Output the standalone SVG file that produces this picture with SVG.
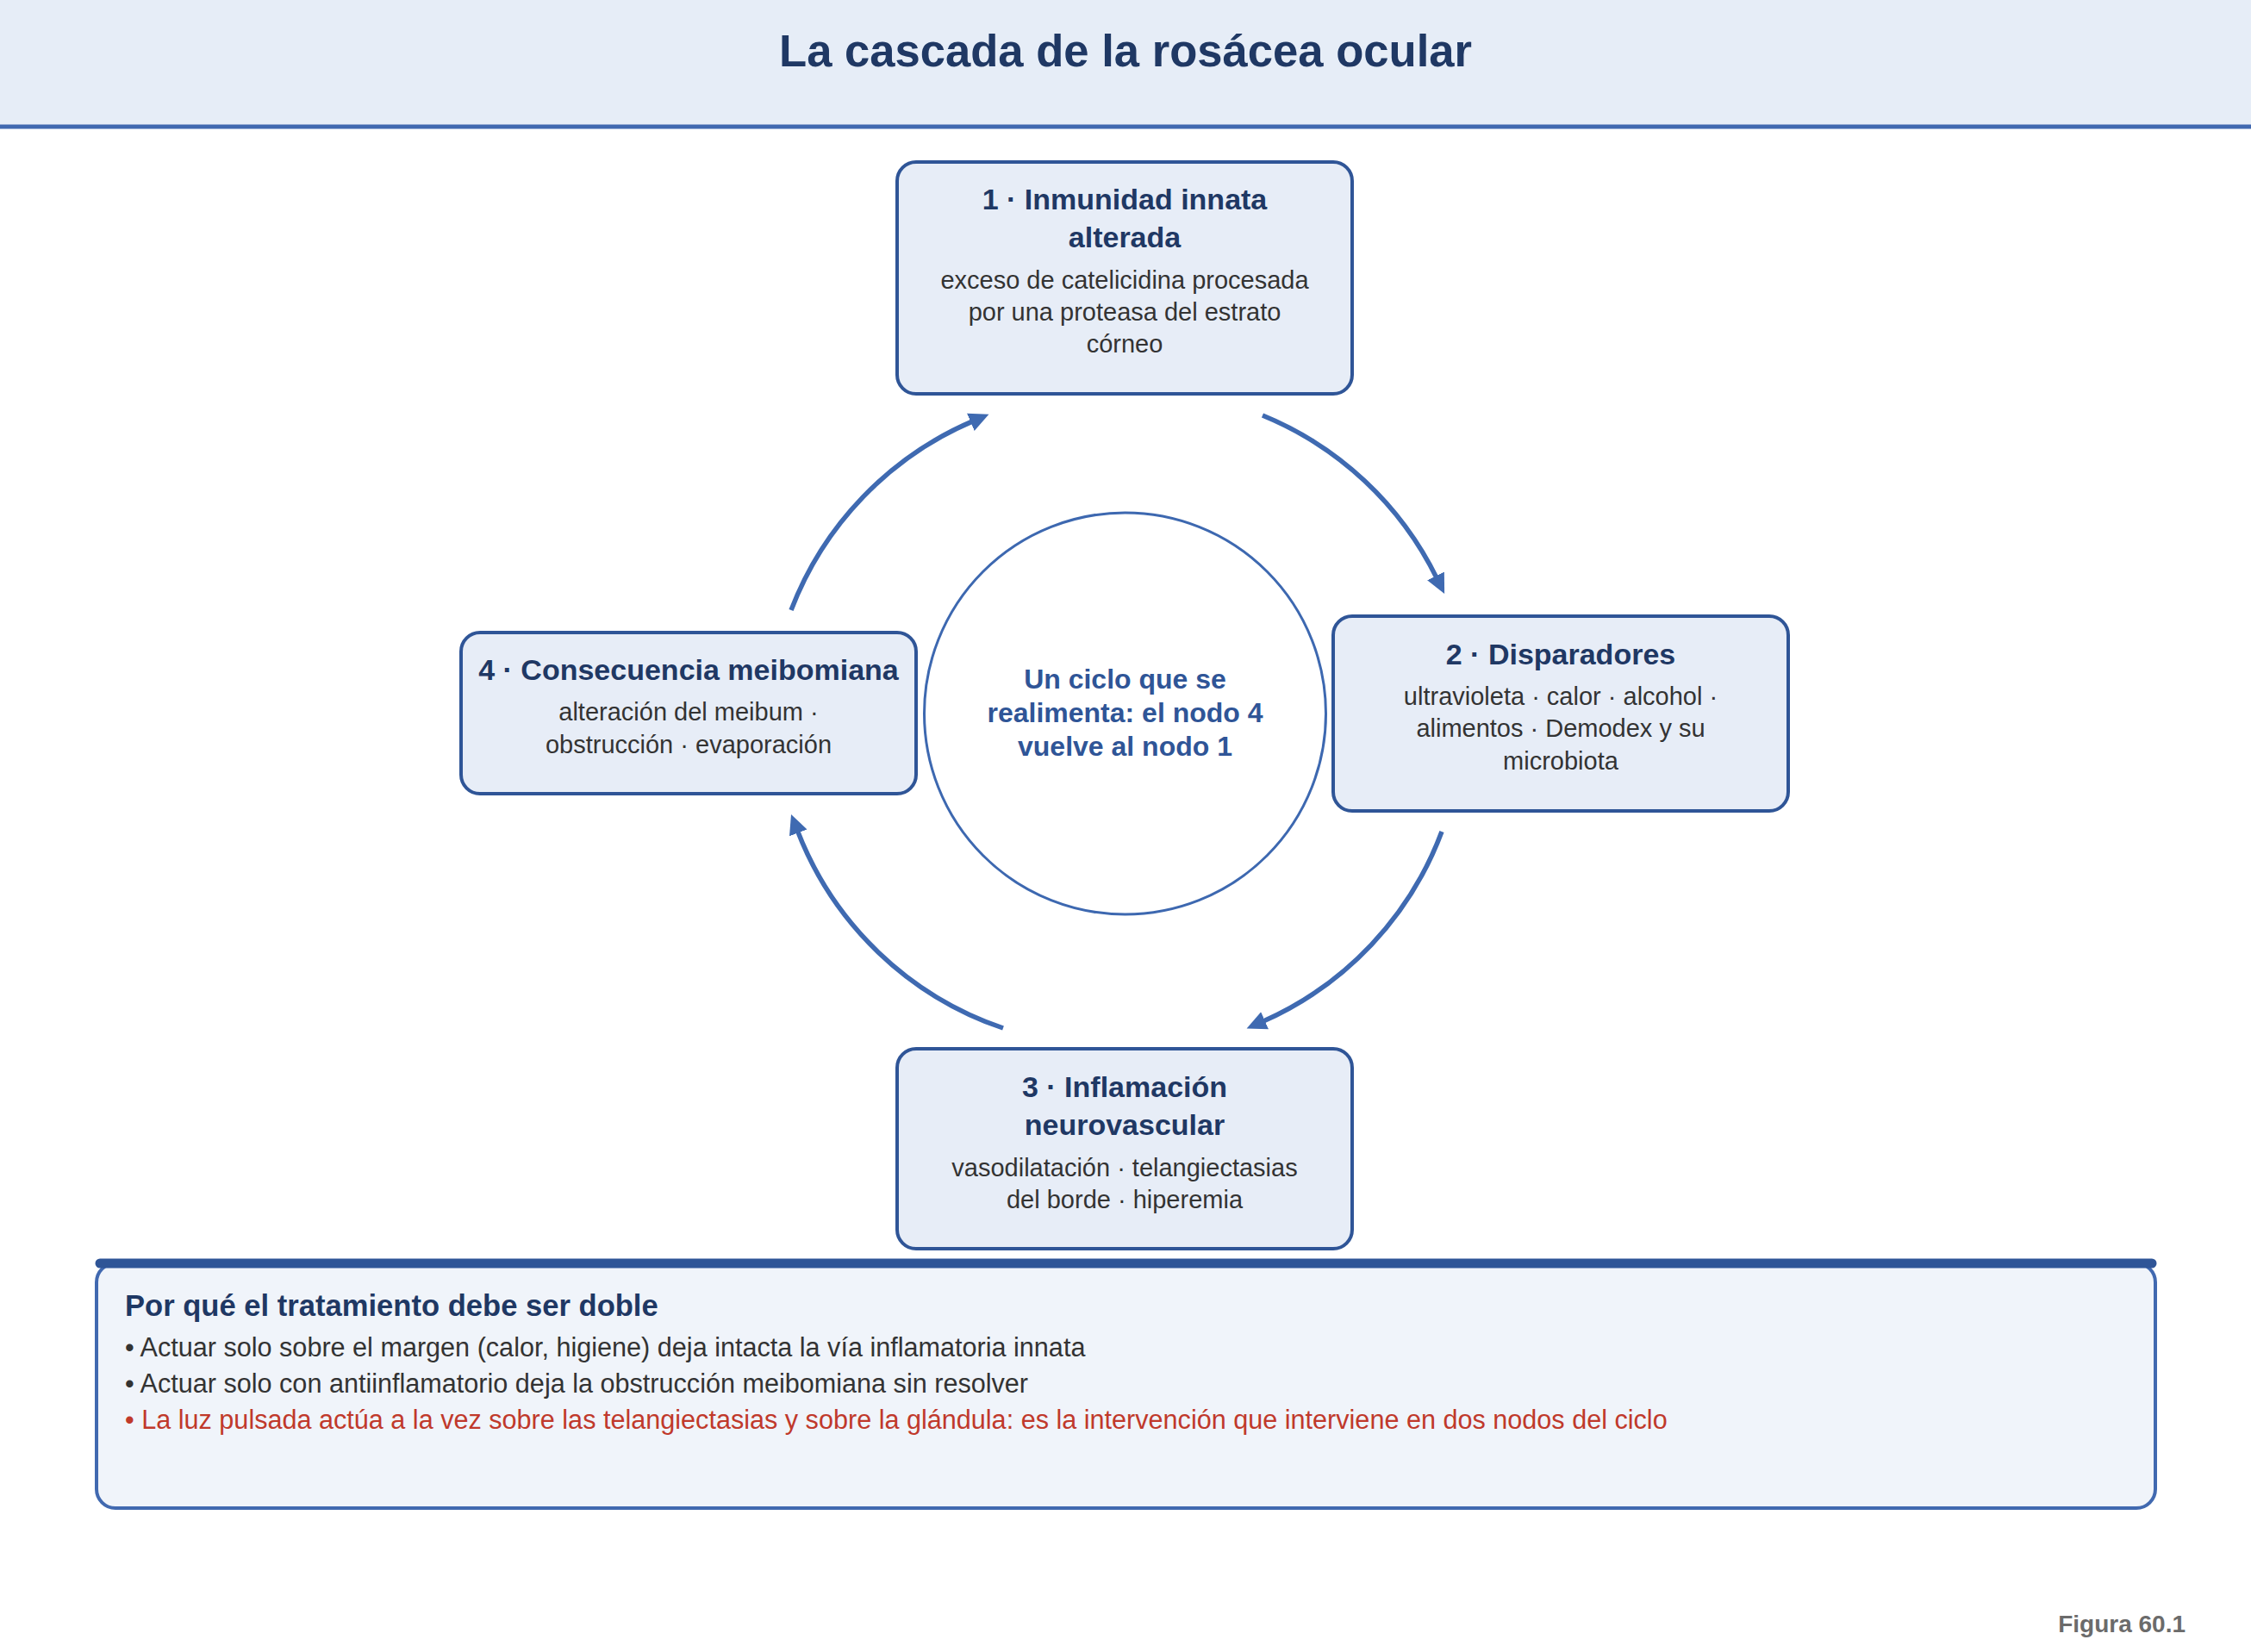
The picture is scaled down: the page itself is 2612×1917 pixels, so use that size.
<svg xmlns="http://www.w3.org/2000/svg" width="2612" height="1917" viewBox="0 0 2612 1917">
<style>
text{font-family:"Liberation Sans",Arial,sans-serif}
.node rect{fill:#e7edf7;stroke:#2f5597;stroke-width:4}
.nt{font-weight:bold;font-size:34px;fill:#1f3864;text-anchor:middle}
.nb{font-size:29px;fill:#333333;text-anchor:middle}
.ct{font-weight:bold;font-size:32px;fill:#2f5597;text-anchor:middle}
.conn path{fill:none;stroke:#3f6ab1;stroke-width:5.5}
.bl{font-size:30.6px;fill:#333333}
</style>
<defs>
<marker id="ah" markerUnits="userSpaceOnUse" markerWidth="26" markerHeight="24" refX="3" refY="11" orient="auto">
<path d="M0,0 L23,11 L0,22 Z" fill="#3f6ab1"/>
</marker>
</defs>
<rect width="2612" height="1917" fill="#ffffff"/>
<g id="header">
<rect x="0" y="0" width="2612" height="145" fill="#e6edf7"/>
<line x1="0" y1="147" x2="2612" y2="147" stroke="#4169b0" stroke-width="5"/>
<text x="1306" y="77" font-size="52.6" font-weight="bold" fill="#1f3864" text-anchor="middle">La cascada de la rosácea ocular</text>
</g>
<g id="center">
<circle cx="1305.5" cy="828" r="233" fill="#ffffff" stroke="#3d68b0" stroke-width="3"/>
<text class="ct" x="1305.5" y="799">Un ciclo que se</text>
<text class="ct" x="1305.5" y="838">realimenta: el nodo 4</text>
<text class="ct" x="1305.5" y="877">vuelve al nodo 1</text>
</g>
<g id="connectors" class="conn">
<path d="M1465,482 A390,390 0 0 1 1667.3,671.1" marker-end="url(#ah)"/>
<path d="M1673,965 A390,390 0 0 1 1464.9,1185.5" marker-end="url(#ah)"/>
<path d="M1164,1193 A390,390 0 0 1 925.2,963.6" marker-end="url(#ah)"/>
<path d="M918,708 A390,390 0 0 1 1129.1,488.6" marker-end="url(#ah)"/>
</g>
<g id="node1" class="node">
<rect x="1041" y="188" width="528" height="269" rx="22"/>
<text class="nt" x="1305" y="243">1 · Inmunidad innata</text>
<text class="nt" x="1305" y="287">alterada</text>
<text class="nb" x="1305" y="335">exceso de catelicidina procesada</text>
<text class="nb" x="1305" y="372">por una proteasa del estrato</text>
<text class="nb" x="1305" y="409">córneo</text>
</g>
<g id="node2" class="node">
<rect x="1547" y="715" width="528" height="226" rx="22"/>
<text class="nt" x="1811" y="771">2 · Disparadores</text>
<text class="nb" x="1811" y="818">ultravioleta · calor · alcohol ·</text>
<text class="nb" x="1811" y="855">alimentos · Demodex y su</text>
<text class="nb" x="1811" y="893">microbiota</text>
</g>
<g id="node3" class="node">
<rect x="1041" y="1217" width="528" height="232" rx="22"/>
<text class="nt" x="1305" y="1273">3 · Inflamación</text>
<text class="nt" x="1305" y="1317">neurovascular</text>
<text class="nb" x="1305" y="1365">vasodilatación · telangiectasias</text>
<text class="nb" x="1305" y="1402">del borde · hiperemia</text>
</g>
<g id="node4" class="node">
<rect x="535" y="734" width="528" height="187" rx="22"/>
<text class="nt" x="799" y="789">4 · Consecuencia meibomiana</text>
<text class="nb" x="799" y="836">alteración del meibum ·</text>
<text class="nb" x="799" y="874">obstrucción · evaporación</text>
</g>
<g id="note">
<rect x="112" y="1466" width="2389" height="284" rx="22" fill="#f0f4fa" stroke="#4169b0" stroke-width="4"/>
<line x1="116" y1="1466" x2="2497" y2="1466" stroke="#2f5597" stroke-width="11" stroke-linecap="round"/>
<text x="145" y="1527" font-size="34.6" font-weight="bold" fill="#1f3864">Por qué el tratamiento debe ser doble</text>
<text class="bl" x="145" y="1574">• Actuar solo sobre el margen (calor, higiene) deja intacta la vía inflamatoria innata</text>
<text class="bl" x="145" y="1616">• Actuar solo con antiinflamatorio deja la obstrucción meibomiana sin resolver</text>
<text class="bl" x="145" y="1658" style="fill:#c0392b">• La luz pulsada actúa a la vez sobre las telangiectasias y sobre la glándula: es la intervención que interviene en dos nodos del ciclo</text>
</g>
<text id="figlabel" x="2536" y="1894" font-size="28" font-weight="bold" fill="#6b6b6b" text-anchor="end">Figura 60.1</text>
</svg>
